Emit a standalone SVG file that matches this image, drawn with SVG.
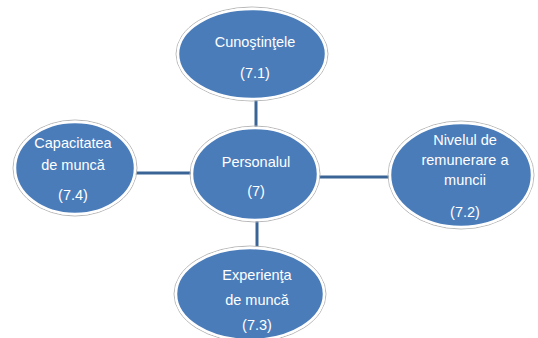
<svg xmlns="http://www.w3.org/2000/svg" width="538" height="338" viewBox="0 0 538 338">
<style>
.out{fill:none;stroke:#b8b8b8;stroke-width:1}
.el{fill:#4a7cba;stroke:#ffffff;stroke-width:2.5}
.t{font-family:"Liberation Sans",Arial,sans-serif;font-size:14.5px;fill:#ffffff;text-anchor:middle}
.c{stroke:#3b6496;stroke-width:3;fill:none}
</style>
<rect width="538" height="338" fill="#ffffff"/>
<g id="connectors">
<line class="c" x1="256" y1="100" x2="256" y2="128"/>
<line class="c" x1="134" y1="173" x2="193" y2="173"/>
<line class="c" x1="317" y1="177" x2="391" y2="177"/>
<line class="c" x1="257" y1="220" x2="257" y2="249"/>
</g>
<g id="n71">
<ellipse class="out" cx="252" cy="54" rx="76" ry="47"/>
<ellipse class="el" cx="252" cy="54" rx="74" ry="45"/>
<text class="t" x="255" y="47">Cunoştinţele</text>
<text class="t" x="255" y="78">(7.1)</text>
</g>
<g id="n7">
<ellipse class="out" cx="255" cy="174" rx="65" ry="48"/>
<ellipse class="el" cx="255" cy="174" rx="63" ry="46"/>
<text class="t" x="256" y="167">Personalul</text>
<text class="t" x="256" y="196">(7)</text>
</g>
<g id="n74">
<ellipse class="out" cx="75" cy="168" rx="62" ry="48"/>
<ellipse class="el" cx="75" cy="168" rx="60" ry="46"/>
<text class="t" x="73" y="148">Capacitatea</text>
<text class="t" x="73" y="170">de muncă</text>
<text class="t" x="73" y="200">(7.4)</text>
</g>
<g id="n72">
<ellipse class="out" cx="461" cy="175" rx="73" ry="54"/>
<ellipse class="el" cx="461" cy="175" rx="71" ry="52"/>
<text class="t" x="465" y="145">Nivelul de</text>
<text class="t" x="465" y="165">remunerare a</text>
<text class="t" x="465" y="185">muncii</text>
<text class="t" x="465" y="217">(7.2)</text>
</g>
<g id="n73">
<ellipse class="out" cx="250" cy="294" rx="76" ry="48"/>
<ellipse class="el" cx="250" cy="294" rx="74" ry="46"/>
<text class="t" x="257" y="280">Experienţa</text>
<text class="t" x="257" y="305">de muncă</text>
<text class="t" x="257" y="330">(7.3)</text>
</g>
</svg>
